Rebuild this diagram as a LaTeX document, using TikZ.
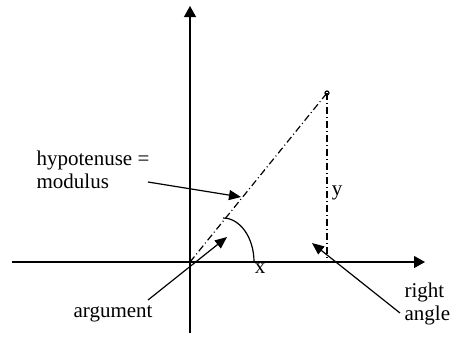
\documentclass[tikz,border=0pt]{standalone}
\usepackage{fontspec}
\setmainfont{Liberation Serif}
\usetikzlibrary{arrows.meta}

\begin{document}
\begin{tikzpicture}[x=0.5pt, y=-0.5pt, line width=.6pt,
  every node/.style={font=\fontsize{10.5}{11.5}\selectfont, inner sep=0pt},
  axis/.style={-{Triangle[length=5.5pt,width=6pt]}},
  pointer/.style={-{Triangle[length=6pt,width=5pt]}},
  dashdot/.style={dash pattern=on 3.5pt off 1.5pt on .5pt off 1.5pt}]
\useasboundingbox (0,0) rectangle (453,344);
% axes
\coordinate (O) at (190,262);
\coordinate (top) at (190,6);
\coordinate (bottom) at (190,333);
\coordinate (left) at (12,262);
\coordinate (right) at (425,262);
\draw[axis] (bottom) -- (top);
\draw[axis] (left) -- (right);
% triangle
\coordinate (P) at (327,93);
\coordinate (Q) at (327,262);
\draw[dashdot] (O) -- (P);
\draw[dashdot] (P) -- (Q);
\draw (P) circle[radius=2];
\coordinate (A) at (223,218);
\draw (A) arc[start angle=-90, end angle=0, x radius=31, y radius=44];
\node[anchor=base] (x) at (260,273) {x};
\node[anchor=base] (y) at (337,195) {y};
% labels (base = last line)
\node[anchor=base west, align=left] (hyp) at (36,188) {hypotenuse =\\modulus};
\node[anchor=base west] (arg) at (73,317) {argument};
\node[anchor=base west, align=left] (ra) at (404,320) {right\\angle};
\coordinate (hs) at (148,182);
\coordinate (ht) at (241,197);
\coordinate (as) at (148,300);
\coordinate (at) at (227,237);
\coordinate (rs) at (400,313);
\coordinate (rt) at (312,243);
\draw[pointer] (hs) -- (ht);
\draw[pointer] (as) -- (at);
\draw[pointer] (rs) -- (rt);
\end{tikzpicture}
\end{document}
